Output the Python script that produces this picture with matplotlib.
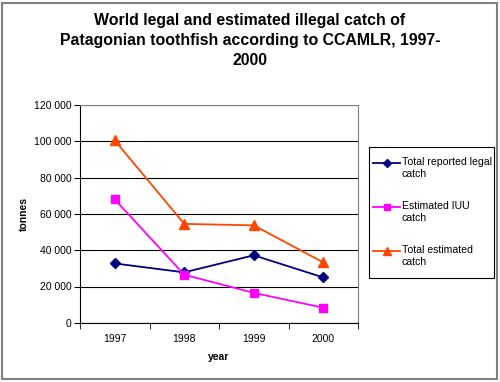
import numpy as np
import matplotlib
matplotlib.use('Agg')
import matplotlib.pyplot as plt
from matplotlib.patches import Rectangle
from matplotlib.lines import Line2D

plt.rcParams['font.family'] = ['Liberation Sans', 'DejaVu Sans']

years = ['1997', '1998', '1999', '2000']
legal = [32700, 27800, 37200, 25000]
iuu = [68000, 26500, 16500, 8300]
total = [100500, 54500, 53700, 33300]

series = [
    ('Total reported legal\ncatch', legal, '#000080', 'D', 5),
    ('Estimated IUU\ncatch', iuu, '#ff00ff', 's', 5.5),
    ('Total estimated\ncatch', total, '#ff4500', '^', 6.5),
]

fig = plt.figure(figsize=(5.0, 3.82), dpi=100)
ax = fig.add_axes([0.16, 0.155, 0.556, 0.57])

x = np.arange(len(years))
for name, vals, col, mk, ms in series:
    ax.plot(x, vals, color=col, marker=mk, markersize=ms, lw=1.3)

ax.set_xlim(-0.5, 3.5)
ax.set_ylim(0, 120000)
ax.set_yticks(np.arange(0, 120001, 20000))
ax.set_yticklabels(['{:,}'.format(v).replace(',', ' ') for v in range(0, 120001, 20000)])
ax.set_xticks(x)
ax.set_xticklabels(years)
ax.set_xticks(np.arange(-0.5, 3.6, 1), minor=True)
ax.tick_params(axis='x', which='major', length=0, labelsize=7.5, pad=8)
ax.tick_params(axis='x', which='minor', length=4, direction='out')
ax.tick_params(axis='y', length=4, direction='out', labelsize=7.5, pad=2)
ax.grid(axis='y', color='black', lw=0.8)
ax.set_axisbelow(True)
for s in ['top', 'right']:
    ax.spines[s].set_color('#808080')
ax.set_xlabel('year', fontsize=7.5, fontweight='bold', labelpad=6)
ax.set_ylabel('tonnes', fontsize=7.5, fontweight='bold', labelpad=4)

fig.text(0.5, 0.965, 'World legal and estimated illegal catch of\n'
         'Patagonian toothfish according to CCAMLR, 1997-\n2000',
         ha='center', va='top', fontsize=11.4, fontweight='bold', linespacing=1.4)

# legend box drawn by hand so the handle sits on the first text line
W, H = 500.0, 382.0
fig.patches.append(Rectangle((369 / W, 1 - 278 / H), 125 / W, 131 / H,
                             transform=fig.transFigure, fill=False,
                             edgecolor='black', lw=0.8))
for i, (name, vals, col, mk, ms) in enumerate(series):
    yy = 1 - (163 + 44 * i) / H
    fig.lines.append(Line2D([373 / W, 400 / W], [yy, yy], transform=fig.transFigure,
                            color=col, lw=1.3))
    fig.lines.append(Line2D([386.5 / W], [yy], transform=fig.transFigure,
                            color=col, marker=mk, markersize=ms - 0.5))
    fig.text(402 / W, yy + 6 / H, name, ha='left', va='top', fontsize=7.6,
             linespacing=1.3)

fig.patches.append(Rectangle((0.004, 0.008), 0.99, 0.985, transform=fig.transFigure,
                             fill=False, edgecolor='#808080', lw=1.5))

fig.savefig('out.png', dpi=100)
